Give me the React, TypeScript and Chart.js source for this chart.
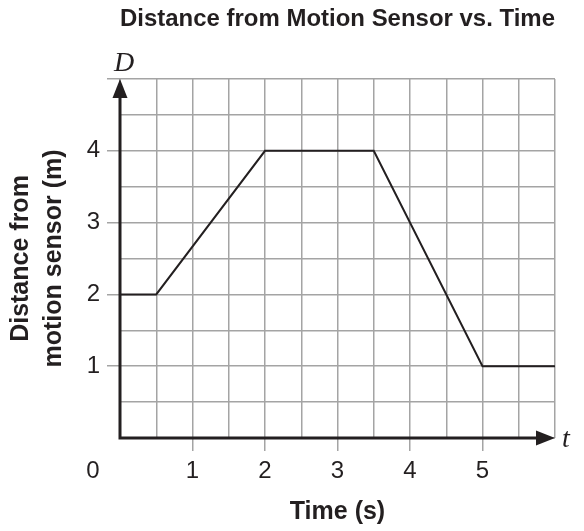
import React, { useEffect, useRef } from "react";
import { Chart, registerables } from "chart.js";

Chart.register(...registerables);

const timeValues = [0, 0.5, 2, 3.5, 5, 6];
const distanceValues = [2, 2, 4, 4, 1, 1];
const xTickLabels = [1, 2, 3, 4, 5];
const yTickLabels = [1, 2, 3, 4];
const chartTitle = "Distance from Motion Sensor vs. Time";
const xAxisTitle = "Time (s)";
const yAxisTitle = ["Distance from", "motion sensor (m)"];

const SANS = "'Liberation Sans', Arial, Helvetica, sans-serif";
const SERIF = "'Liberation Serif', 'Times New Roman', serif";
const INK = "#231f20";
const GRID = "#a4a4a4";

const axesPlugin = {
  id: "axesArrows",
  afterDatasetsDraw(chart: any) {
    const { ctx } = chart;
    const xs = chart.scales.x;
    const ys = chart.scales.y;
    const x0 = xs.getPixelForValue(0);
    const xEnd = xs.getPixelForValue(6);
    const y0 = ys.getPixelForValue(0);
    const yEnd = ys.getPixelForValue(5);
    ctx.save();
    ctx.strokeStyle = INK;
    ctx.fillStyle = INK;
    ctx.lineWidth = 3;
    ctx.lineCap = "butt";
    ctx.beginPath();
    ctx.moveTo(x0, y0 + 1.5);
    ctx.lineTo(x0, yEnd + 10);
    ctx.moveTo(x0 - 1.5, y0);
    ctx.lineTo(xEnd - 10, y0);
    ctx.stroke();
    // arrow heads
    ctx.beginPath();
    ctx.moveTo(x0, yEnd);
    ctx.lineTo(x0 - 7.5, yEnd + 19);
    ctx.lineTo(x0 + 7.5, yEnd + 19);
    ctx.closePath();
    ctx.fill();
    ctx.beginPath();
    ctx.moveTo(xEnd, y0);
    ctx.lineTo(xEnd - 19, y0 - 7.5);
    ctx.lineTo(xEnd - 19, y0 + 7.5);
    ctx.closePath();
    ctx.fill();
    // axis variable letters
    ctx.font = "italic 28px " + SERIF;
    ctx.textAlign = "center";
    ctx.textBaseline = "alphabetic";
    ctx.fillText("D", x0 + 4, yEnd - 8);
    ctx.fillText("t", xEnd + 11, y0 + 9);
    // origin label
    ctx.font = "24px " + SANS;
    ctx.textBaseline = "middle";
    ctx.fillText("0", x0 - 27, y0 + 33);
    ctx.restore();
  },
};

export default function App() {
  const ref = useRef<HTMLCanvasElement>(null);
  useEffect(() => {
    if (!ref.current) return;
    const chart = new Chart(ref.current, {
      type: "line",
      data: {
        datasets: [
          {
            data: timeValues.map((t, i) => ({ x: t, y: distanceValues[i] })),
            borderColor: INK,
            borderWidth: 2,
            pointRadius: 0,
            tension: 0,
            fill: false,
          },
        ],
      },
      plugins: [axesPlugin],
      options: {
        responsive: false,
        animation: false,
        layout: { padding: { left: 0, right: 29, top: 0, bottom: 0 } },
        plugins: {
          legend: { display: false },
          tooltip: { enabled: false },
          title: {
            display: true,
            text: chartTitle,
            fullSize: false,
            color: INK,
            font: { family: SANS, size: 24, weight: "bold", lineHeight: 1.2 },
            padding: { top: 5, bottom: 45.2 },
          },
        },
        scales: {
          x: {
            type: "linear",
            min: 0,
            max: 6,
            afterFit: (s: any) => {
              s.height = 93;
            },
            border: { display: false },
            grid: {
              color: GRID,
              lineWidth: 1.5,
              drawTicks: true,
              tickLength: 13,
              tickWidth: 1.5,
              tickColor: (c: any) =>
                c.tick && xTickLabels.includes(c.tick.value) ? GRID : "rgba(0,0,0,0)",
            },
            ticks: {
              stepSize: 0.5,
              autoSkip: false,
              maxRotation: 0,
              padding: 6,
              color: INK,
              font: { family: SANS, size: 24 },
              callback: (v: any) => (xTickLabels.includes(Number(v)) ? String(v) : ""),
            },
            title: {
              display: true,
              text: xAxisTitle,
              color: INK,
              font: { family: SANS, size: 25, weight: "bold", lineHeight: 1.2 },
              padding: { top: 0, bottom: 4 },
            },
          },
          y: {
            type: "linear",
            min: 0,
            max: 5,
            afterFit: (s: any) => {
              s.width = 120;
            },
            border: { display: false },
            grid: {
              color: GRID,
              lineWidth: 1.5,
              drawTicks: true,
              tickLength: 13,
              tickWidth: 1.5,
              tickColor: (c: any) =>
                c.tick && Number.isInteger(c.tick.value) && c.tick.value > 0
                  ? GRID
                  : "rgba(0,0,0,0)",
            },
            ticks: {
              stepSize: 0.5,
              autoSkip: false,
              padding: 7,
              color: INK,
              font: { family: SANS, size: 24 },
              callback: (v: any) => (yTickLabels.includes(Number(v)) ? String(v) : ""),
            },
            title: {
              display: true,
              text: yAxisTitle,
              color: INK,
              font: { family: SANS, size: 25, weight: "bold", lineHeight: 1.32 },
              padding: { top: 5, bottom: 0 },
            },
          },
        },
      } as any,
    });
    return () => chart.destroy();
  }, []);
  return (
    <div style={{ position: "fixed", left: 0, top: 0, width: 584, height: 531, background: "#fff" }}>
      <canvas ref={ref} width={584} height={531} style={{ display: "block" }} />
    </div>
  );
}
